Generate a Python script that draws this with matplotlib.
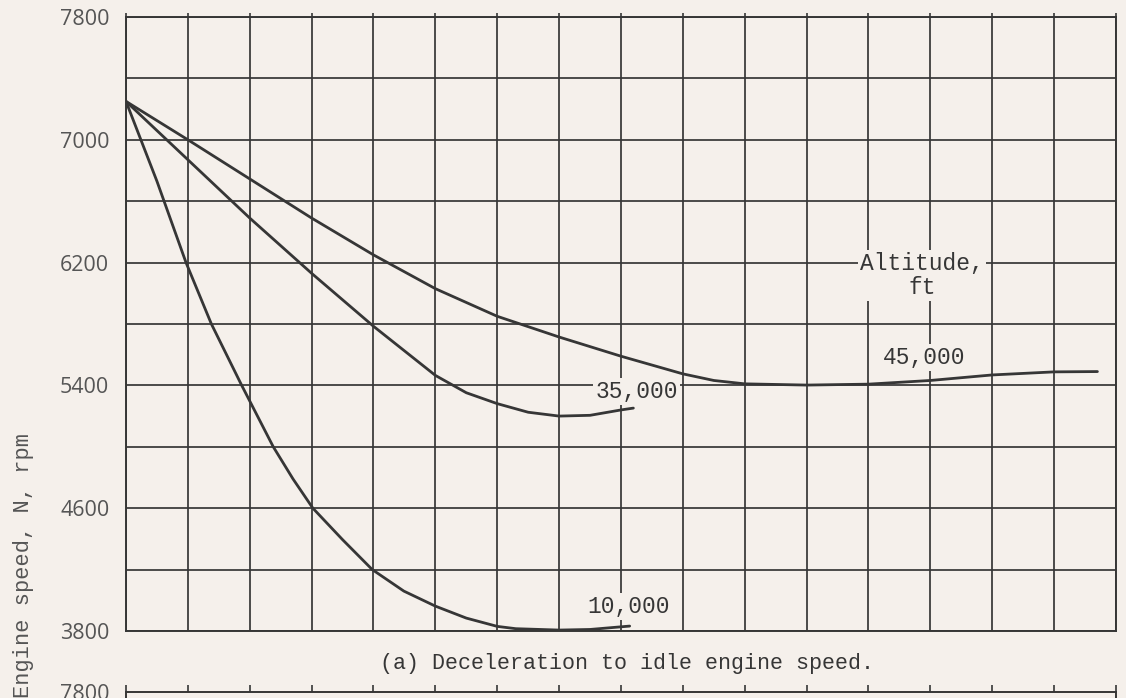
import matplotlib
matplotlib.use("Agg")
import matplotlib.pyplot as plt

# Engine speed during deceleration to idle.
# x is in grid divisions (the x scale is not shown on this panel).
t_10k = [0.0, 0.5, 0.97, 1.38, 1.87, 2.38, 2.7, 3.02, 3.5, 3.98, 4.49, 5.0, 5.5, 6.0, 6.3, 7.0, 7.5, 8.14]
n_10k = [7250, 6730, 6200, 5800, 5400, 5000, 4790, 4600, 4395, 4200, 4060, 3962, 3884, 3830, 3815, 3806, 3810, 3832]

t_35k = [0.0, 1.0, 2.0, 3.0, 4.0, 5.0, 5.5, 6.0, 6.5, 7.0, 7.5, 8.0, 8.2]
n_35k = [7250, 6870, 6490, 6130, 5785, 5465, 5352, 5281, 5225, 5200, 5205, 5240, 5252]

t_45k = [0.0, 1.0, 2.0, 3.0, 4.0, 5.0, 6.0, 7.0, 8.0, 9.0, 9.5, 10.0, 11.0, 12.0, 13.0, 14.0, 15.0, 15.7]
n_45k = [7250, 7000, 6745, 6490, 6250, 6030, 5850, 5715, 5590, 5475, 5432, 5410, 5402, 5408, 5432, 5468, 5488, 5490]

alt_labels = ["10,000", "35,000", "45,000"]
label_x = [8.13, 8.25, 12.9]
label_y = [3960, 5360, 5580]

ytick_vals = [3800, 4600, 5400, 6200, 7000, 7800]
ygrid_vals = list(range(3800, 7801, 400))
xgrid_vals = list(range(0, 17))

paper = "#f5f0eb"
ink = "#363636"
gray_text = "#555555"
type_font = "Liberation Mono"
num_font = "Open Sans"

fig = plt.figure(figsize=(11.26, 6.98), dpi=100, facecolor=paper)

# ---- panel (a) ----
ax = fig.add_axes([0.1119, 0.096, 0.8792, 0.8797], facecolor=paper)
ax.set_xlim(0, 16)
ax.set_ylim(3800, 7800)
ax.set_xticks(xgrid_vals)
ax.set_yticks(ygrid_vals)
ax.set_yticklabels([str(v) if v in ytick_vals else "" for v in ygrid_vals],
                   fontfamily=num_font, fontsize=15.5, color=gray_text)
ax.set_xticklabels([])
ax.tick_params(axis="y", length=0, pad=12)
ax.tick_params(axis="x", bottom=False, top=True, direction="out", length=3,
               width=1.2, color=ink)
ax.grid(True, color=ink, linewidth=1.25)
ax.set_axisbelow(True)
for sp in ax.spines.values():
    sp.set_color(ink)
    sp.set_linewidth(1.4)

for t, n in [(t_10k, n_10k), (t_35k, n_35k), (t_45k, n_45k)]:
    ax.plot(t, n, color=ink, linewidth=2.0, solid_capstyle="round",
            solid_joinstyle="round", zorder=3)

box = dict(facecolor=paper, edgecolor="none", pad=1.5)
for lab, lx, ly in zip(alt_labels, label_x, label_y):
    ax.text(lx, ly, lab, ha="center", va="center", fontfamily=type_font,
            fontsize=16.5, color=ink, bbox=box, zorder=4)

ax.text(12.87, 6115, "Altitude,\nft", ha="center", va="center",
        fontfamily=type_font, fontsize=16.5, color=ink, linespacing=1.05,
        bbox=box, zorder=4)

fig.text(0.557, 0.049, "(a) Deceleration to idle engine speed.", ha="center",
         va="center", fontfamily=type_font, fontsize=15.6, color=ink)

fig.text(0.021, 0.19, "Engine speed, N, rpm", rotation=90, ha="center",
         va="center", fontfamily=type_font, fontsize=15.8, color=gray_text)

# ---- top edge of the next panel, cut off by the page ----
ax2 = fig.add_axes([0.1119, 0.0086 - 0.8797, 0.8792, 0.8797], facecolor=paper)
ax2.set_xlim(0, 16)
ax2.set_ylim(3800, 7800)
ax2.set_xticks(xgrid_vals)
ax2.set_yticks([7800])
ax2.set_yticklabels(["7800"], fontfamily=num_font, fontsize=15.5, color=gray_text)
ax2.set_xticklabels([])
ax2.tick_params(axis="y", length=0, pad=12)
ax2.tick_params(axis="x", bottom=False, top=True, direction="out", length=5,
                width=1.2, color=ink)
for sp in ax2.spines.values():
    sp.set_color(ink)
    sp.set_linewidth(1.4)

fig.savefig("out.png", dpi=100, facecolor=paper)
